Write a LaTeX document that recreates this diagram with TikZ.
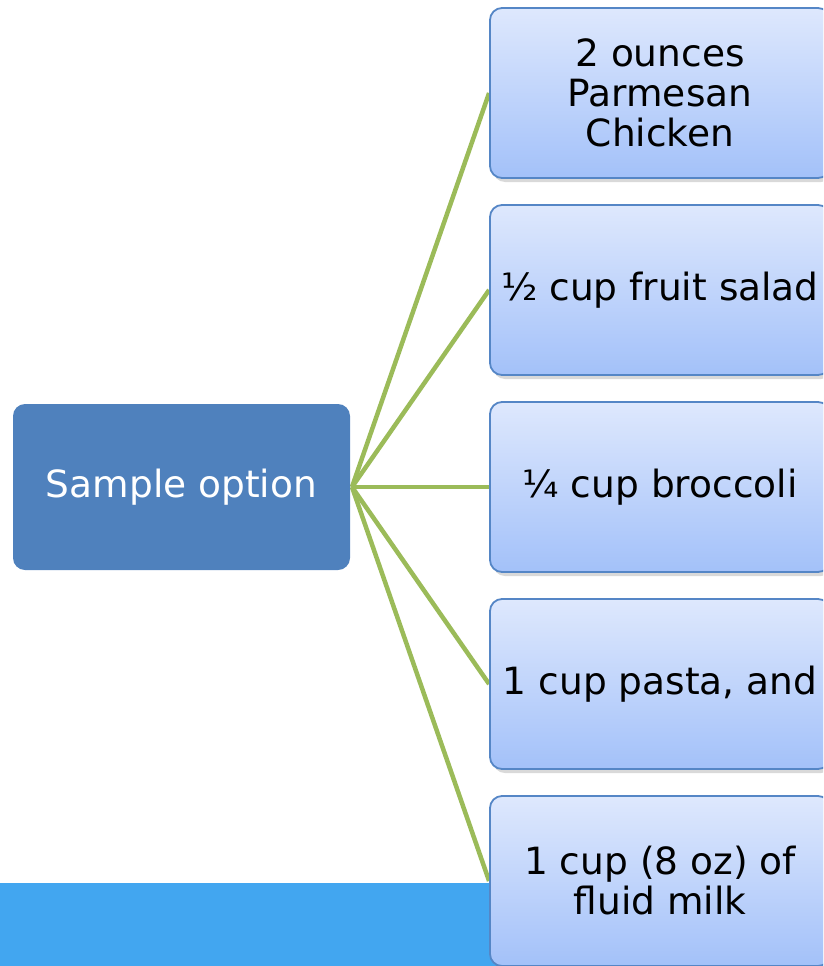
\documentclass[tikz,border=0pt]{standalone}
\usepackage{fontspec}
\setmainfont{DejaVu Sans}
\usetikzlibrary{shadows,backgrounds}
\definecolor{mainblue}{HTML}{4F81BD}
\definecolor{linkgreen}{HTML}{9BBB59}
\definecolor{bartone}{HTML}{42A6F0}
\definecolor{boxtop}{HTML}{DEE8FD}
\definecolor{boxbot}{HTML}{A3C1F9}
\definecolor{boxline}{HTML}{5586C6}
\tikzset{
  rootbox/.style={draw=none, fill=mainblue, rounded corners=12pt, minimum width=337pt, minimum height=166pt, text=white, font=\fontsize{37.5}{40}\selectfont, inner sep=0pt},
  itembox/.style={draw=boxline, line width=1.8pt, top color=boxtop, bottom color=boxbot, rounded corners=12pt, minimum width=340pt, minimum height=170pt, align=center, text=black, font=\fontsize{37.5}{40}\selectfont, inner sep=0pt, drop shadow={shadow xshift=3pt, shadow yshift=-4pt, opacity=0.3}},
  link/.style={draw=linkgreen, line width=4.5pt}
}
\begin{document}
\begin{tikzpicture}[x=1pt,y=-1pt]
\useasboundingbox (0,0) rectangle (823,966);
\clip (0,0) rectangle (823,966);
\node[rootbox] (root) at (181.5,487) {Sample option};
\coordinate (hub) at (352,487);
\node[itembox] (a) at (660,93) {2 ounces\\Parmesan\\Chicken};
\node[itembox] (b) at (660,290) {½ cup fruit salad};
\node[itembox] (c) at (660,487) {¼ cup broccoli};
\node[itembox] (d) at (660,684) {1 cup pasta, and};
\node[itembox] (e) at (660,881) {1 cup (8 oz) of\\fluid milk};
\begin{scope}[on background layer]
\fill[bartone] (0,883) rectangle (823,966);
\draw[link] (hub) -- (a.west);
\draw[link] (hub) -- (b.west);
\draw[link] (hub) -- (c.west);
\draw[link] (hub) -- (d.west);
\draw[link] (hub) -- (e.west);
\end{scope}
\end{tikzpicture}
\end{document}
